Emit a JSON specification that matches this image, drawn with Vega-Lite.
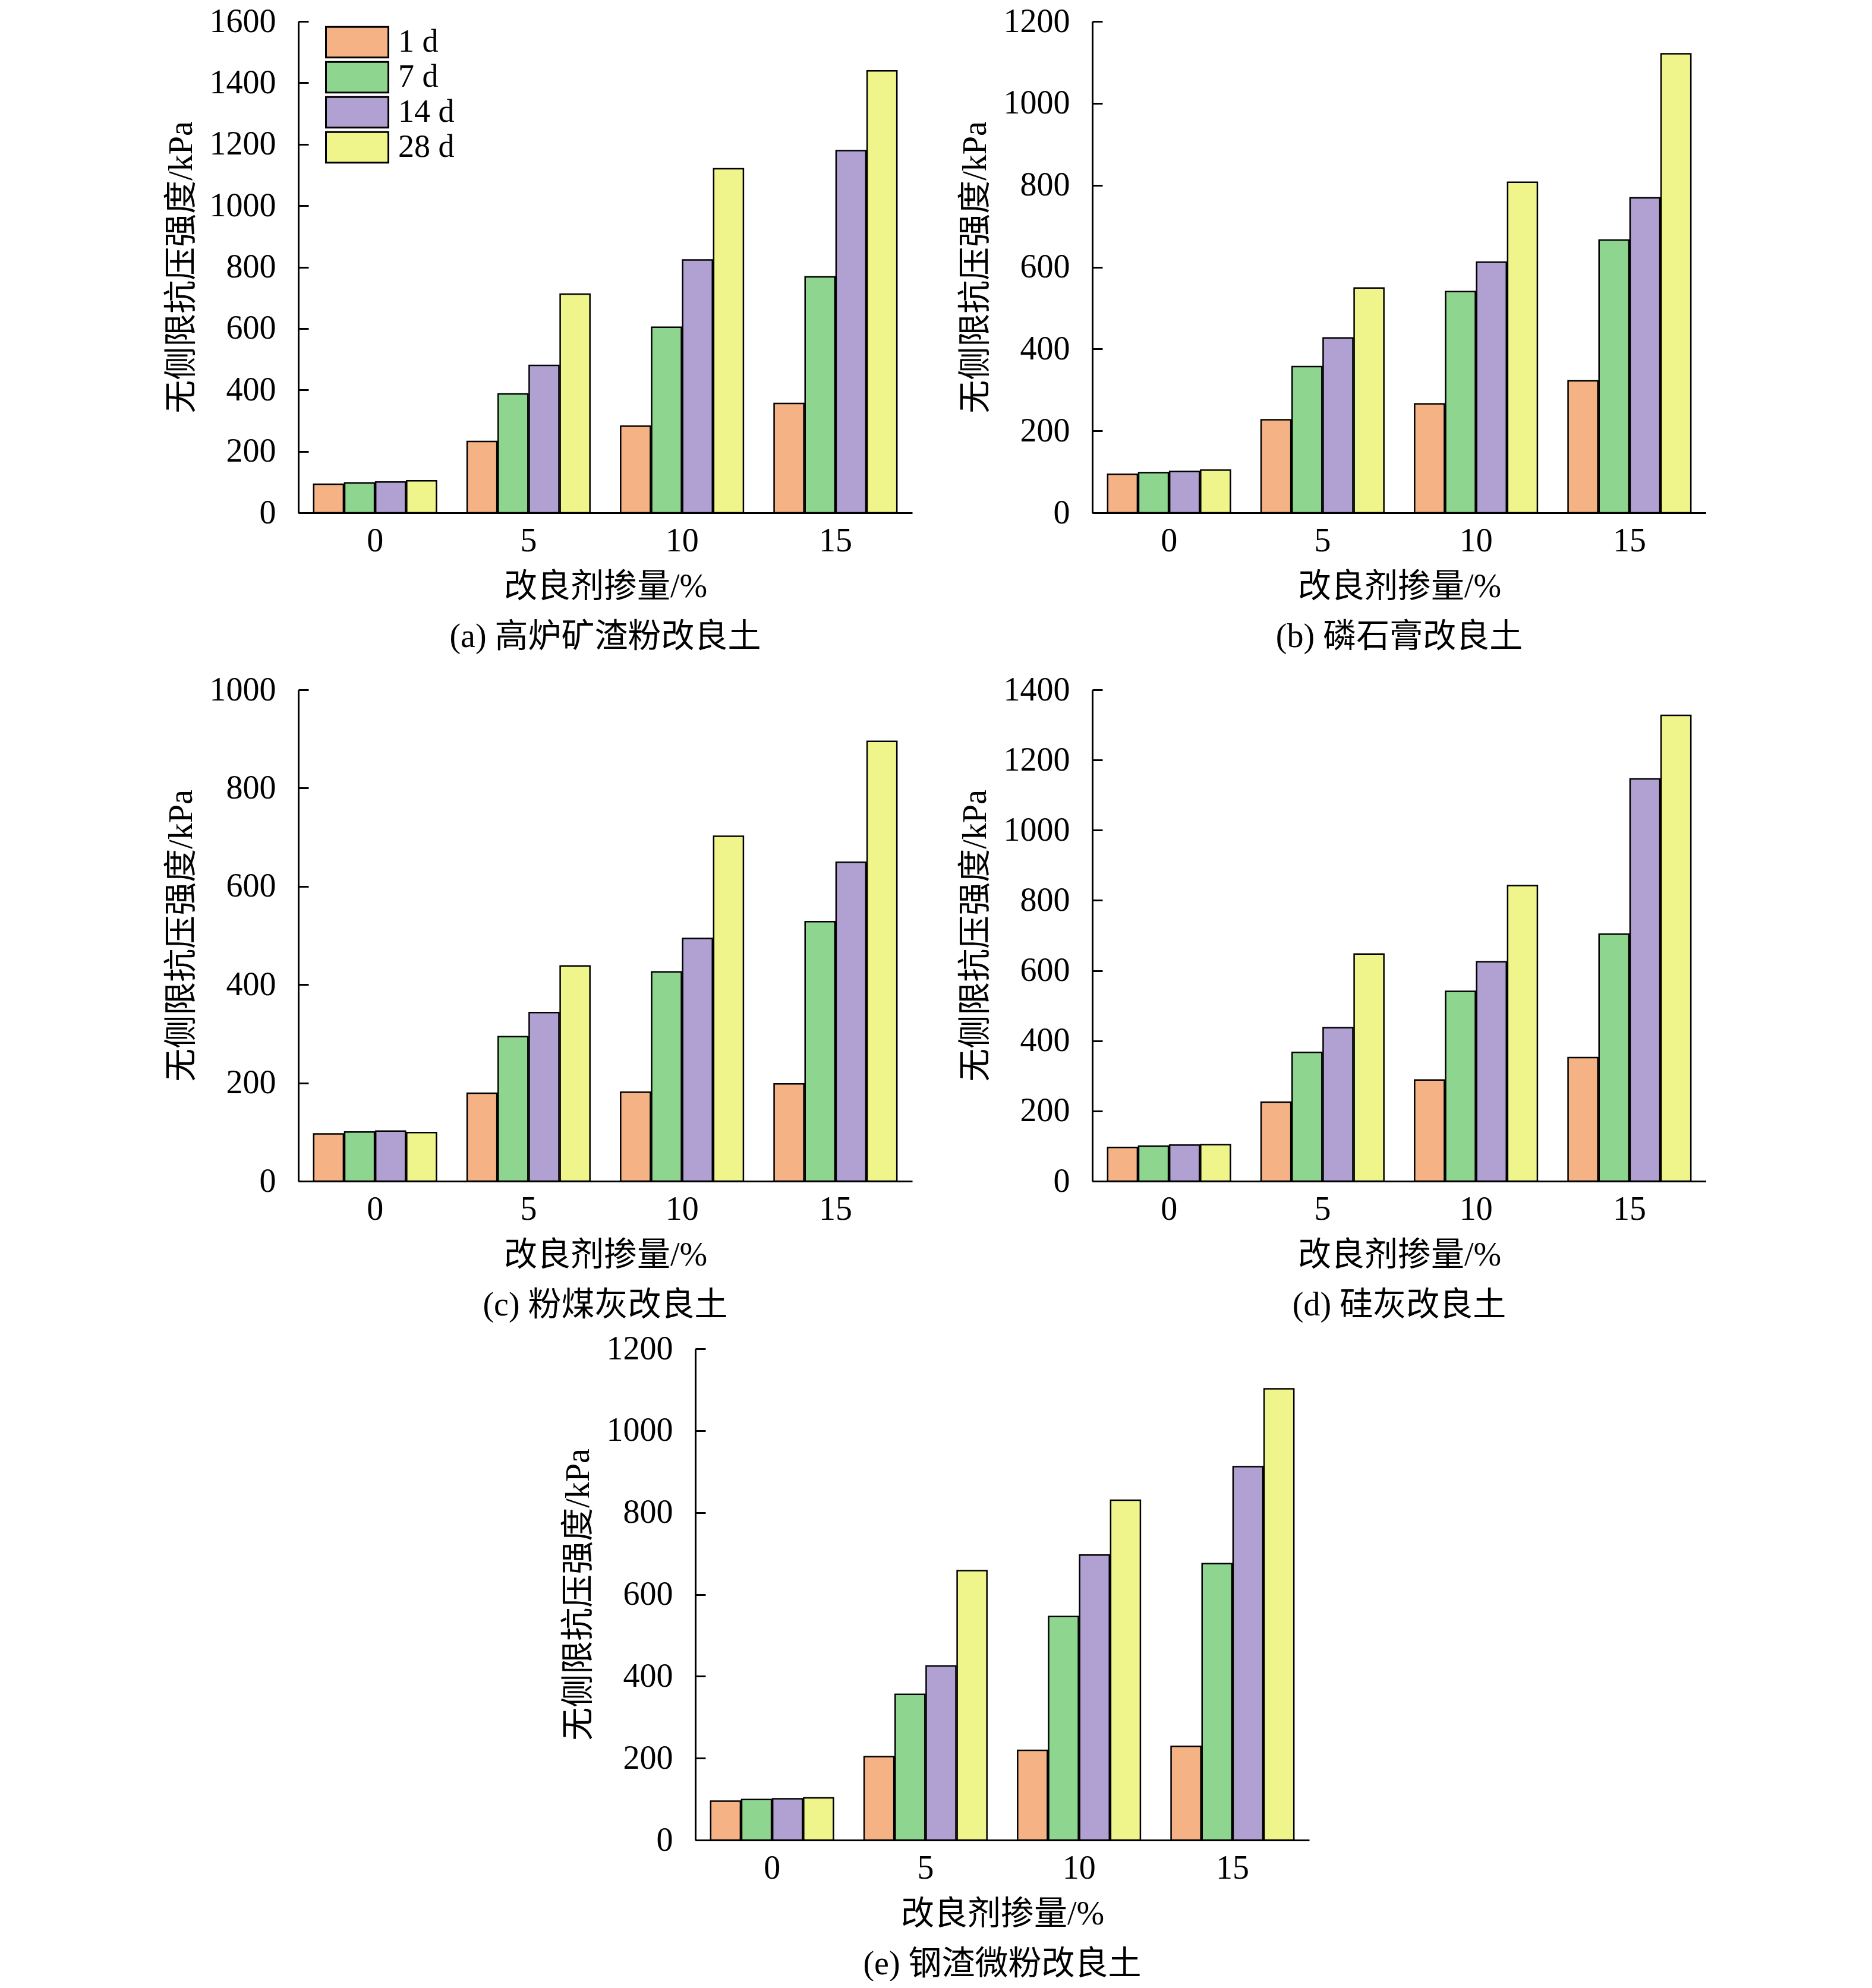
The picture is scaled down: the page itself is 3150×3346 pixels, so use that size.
{
  "$schema": "https://vega.github.io/schema/vega-lite/v6.json",
  "padding": {"left": 277, "top": 8, "right": 0, "bottom": 0},
  "background": "white",
  "data": {
    "values": [
      {"p": "a", "dose": 0, "age": "1 d", "kPa": 93},
      {"p": "a", "dose": 0, "age": "7 d", "kPa": 97},
      {"p": "a", "dose": 0, "age": "14 d", "kPa": 100},
      {"p": "a", "dose": 0, "age": "28 d", "kPa": 104},
      {"p": "a", "dose": 5, "age": "1 d", "kPa": 232},
      {"p": "a", "dose": 5, "age": "7 d", "kPa": 387},
      {"p": "a", "dose": 5, "age": "14 d", "kPa": 480},
      {"p": "a", "dose": 5, "age": "28 d", "kPa": 712},
      {"p": "a", "dose": 10, "age": "1 d", "kPa": 282},
      {"p": "a", "dose": 10, "age": "7 d", "kPa": 604},
      {"p": "a", "dose": 10, "age": "14 d", "kPa": 823},
      {"p": "a", "dose": 10, "age": "28 d", "kPa": 1120},
      {"p": "a", "dose": 15, "age": "1 d", "kPa": 356},
      {"p": "a", "dose": 15, "age": "7 d", "kPa": 768},
      {"p": "a", "dose": 15, "age": "14 d", "kPa": 1179},
      {"p": "a", "dose": 15, "age": "28 d", "kPa": 1439},
      {"p": "b", "dose": 0, "age": "1 d", "kPa": 94},
      {"p": "b", "dose": 0, "age": "7 d", "kPa": 98},
      {"p": "b", "dose": 0, "age": "14 d", "kPa": 101},
      {"p": "b", "dose": 0, "age": "28 d", "kPa": 104},
      {"p": "b", "dose": 5, "age": "1 d", "kPa": 227},
      {"p": "b", "dose": 5, "age": "7 d", "kPa": 357},
      {"p": "b", "dose": 5, "age": "14 d", "kPa": 427},
      {"p": "b", "dose": 5, "age": "28 d", "kPa": 549},
      {"p": "b", "dose": 10, "age": "1 d", "kPa": 266},
      {"p": "b", "dose": 10, "age": "7 d", "kPa": 540},
      {"p": "b", "dose": 10, "age": "14 d", "kPa": 612},
      {"p": "b", "dose": 10, "age": "28 d", "kPa": 807},
      {"p": "b", "dose": 15, "age": "1 d", "kPa": 322},
      {"p": "b", "dose": 15, "age": "7 d", "kPa": 666},
      {"p": "b", "dose": 15, "age": "14 d", "kPa": 769},
      {"p": "b", "dose": 15, "age": "28 d", "kPa": 1121},
      {"p": "c", "dose": 0, "age": "1 d", "kPa": 96},
      {"p": "c", "dose": 0, "age": "7 d", "kPa": 100},
      {"p": "c", "dose": 0, "age": "14 d", "kPa": 102},
      {"p": "c", "dose": 0, "age": "28 d", "kPa": 99},
      {"p": "c", "dose": 5, "age": "1 d", "kPa": 179},
      {"p": "c", "dose": 5, "age": "7 d", "kPa": 294},
      {"p": "c", "dose": 5, "age": "14 d", "kPa": 343},
      {"p": "c", "dose": 5, "age": "28 d", "kPa": 438},
      {"p": "c", "dose": 10, "age": "1 d", "kPa": 181},
      {"p": "c", "dose": 10, "age": "7 d", "kPa": 426},
      {"p": "c", "dose": 10, "age": "14 d", "kPa": 494},
      {"p": "c", "dose": 10, "age": "28 d", "kPa": 702},
      {"p": "c", "dose": 15, "age": "1 d", "kPa": 198},
      {"p": "c", "dose": 15, "age": "7 d", "kPa": 528},
      {"p": "c", "dose": 15, "age": "14 d", "kPa": 649},
      {"p": "c", "dose": 15, "age": "28 d", "kPa": 895},
      {"p": "d", "dose": 0, "age": "1 d", "kPa": 96},
      {"p": "d", "dose": 0, "age": "7 d", "kPa": 100},
      {"p": "d", "dose": 0, "age": "14 d", "kPa": 103},
      {"p": "d", "dose": 0, "age": "28 d", "kPa": 104},
      {"p": "d", "dose": 5, "age": "1 d", "kPa": 225},
      {"p": "d", "dose": 5, "age": "7 d", "kPa": 367},
      {"p": "d", "dose": 5, "age": "14 d", "kPa": 437},
      {"p": "d", "dose": 5, "age": "28 d", "kPa": 647},
      {"p": "d", "dose": 10, "age": "1 d", "kPa": 288},
      {"p": "d", "dose": 10, "age": "7 d", "kPa": 541},
      {"p": "d", "dose": 10, "age": "14 d", "kPa": 625},
      {"p": "d", "dose": 10, "age": "28 d", "kPa": 842},
      {"p": "d", "dose": 15, "age": "1 d", "kPa": 352},
      {"p": "d", "dose": 15, "age": "7 d", "kPa": 704},
      {"p": "d", "dose": 15, "age": "14 d", "kPa": 1146},
      {"p": "d", "dose": 15, "age": "28 d", "kPa": 1327},
      {"p": "e", "dose": 0, "age": "1 d", "kPa": 95},
      {"p": "e", "dose": 0, "age": "7 d", "kPa": 99},
      {"p": "e", "dose": 0, "age": "14 d", "kPa": 101},
      {"p": "e", "dose": 0, "age": "28 d", "kPa": 103},
      {"p": "e", "dose": 5, "age": "1 d", "kPa": 204},
      {"p": "e", "dose": 5, "age": "7 d", "kPa": 356},
      {"p": "e", "dose": 5, "age": "14 d", "kPa": 425},
      {"p": "e", "dose": 5, "age": "28 d", "kPa": 658},
      {"p": "e", "dose": 10, "age": "1 d", "kPa": 219},
      {"p": "e", "dose": 10, "age": "7 d", "kPa": 546},
      {"p": "e", "dose": 10, "age": "14 d", "kPa": 696},
      {"p": "e", "dose": 10, "age": "28 d", "kPa": 830},
      {"p": "e", "dose": 15, "age": "1 d", "kPa": 229},
      {"p": "e", "dose": 15, "age": "7 d", "kPa": 675},
      {"p": "e", "dose": 15, "age": "14 d", "kPa": 912},
      {"p": "e", "dose": 15, "age": "28 d", "kPa": 1102}
    ]
  },
  "spacing": 17,
  "center": true,
  "resolve": {"legend": {"color": "independent"}},
  "vconcat": [
    {
      "spacing": 33,
      "resolve": {"legend": {"color": "independent"}},
      "vconcat": [
        {
          "spacing": 78,
          "resolve": {"legend": {"color": "independent"}},
          "hconcat": [
            {
              "width": 1033, "height": 827,
              "title": "(a) 高炉矿渣粉改良土",
              "transform": [{"filter": "datum.p == 'a'"}],
              "mark": {"type": "bar", "stroke": "black", "strokeWidth": 2.5},
              "encoding": {
                "x": {"field": "dose", "type": "ordinal", "title": "改良剂掺量/%", "scale": {"paddingInner": 0.2, "paddingOuter": 0.1}},
                "xOffset": {"field": "age", "type": "nominal", "sort": ["1 d", "7 d", "14 d", "28 d"], "scale": {"paddingInner": 0.04}},
                "y": {"field": "kPa", "type": "quantitative", "title": "无侧限抗压强度/kPa", "scale": {"domain": [0, 1600], "nice": false}, "axis": {"format": "d", "values": [0, 200, 400, 600, 800, 1000, 1200, 1400, 1600]}},
                "color": {
                  "field": "age", "type": "nominal",
                  "scale": {"domain": ["1 d", "7 d", "14 d", "28 d"], "range": ["#F5B285", "#8ED690", "#B1A1D3", "#F0F58B"]},
                  "legend": {
                    "orient": "none", "legendX": 72, "legendY": 8, "title": null, "padding": 0,
                    "symbolType": "M-2.1,-1.03H2.1V1.03H-2.1Z", "symbolSize": 2500,
                    "symbolStrokeColor": "black", "symbolStrokeWidth": 3, "symbolOpacity": 1,
                    "labelFont": "Liberation Serif, Noto Sans CJK SC", "labelFontSize": 54, "labelColor": "black",
                    "labelOffset": 42, "rowPadding": -8
                  }
                }
              }
            },
            {
              "width": 1033, "height": 827,
              "title": "(b) 磷石膏改良土",
              "transform": [{"filter": "datum.p == 'b'"}],
              "mark": {"type": "bar", "stroke": "black", "strokeWidth": 2.5},
              "encoding": {
                "x": {"field": "dose", "type": "ordinal", "title": "改良剂掺量/%", "scale": {"paddingInner": 0.2, "paddingOuter": 0.1}},
                "xOffset": {"field": "age", "type": "nominal", "sort": ["1 d", "7 d", "14 d", "28 d"], "scale": {"paddingInner": 0.04}},
                "y": {"field": "kPa", "type": "quantitative", "title": "无侧限抗压强度/kPa", "scale": {"domain": [0, 1200], "nice": false}, "axis": {"format": "d", "values": [0, 200, 400, 600, 800, 1000, 1200]}},
                "color": {"field": "age", "type": "nominal", "scale": {"domain": ["1 d", "7 d", "14 d", "28 d"], "range": ["#F5B285", "#8ED690", "#B1A1D3", "#F0F58B"]}, "legend": null}
              }
            }
          ]
        },
        {
          "spacing": 78,
          "resolve": {"legend": {"color": "independent"}},
          "hconcat": [
            {
              "width": 1033, "height": 827,
              "title": "(c) 粉煤灰改良土",
              "transform": [{"filter": "datum.p == 'c'"}],
              "mark": {"type": "bar", "stroke": "black", "strokeWidth": 2.5},
              "encoding": {
                "x": {"field": "dose", "type": "ordinal", "title": "改良剂掺量/%", "scale": {"paddingInner": 0.2, "paddingOuter": 0.1}},
                "xOffset": {"field": "age", "type": "nominal", "sort": ["1 d", "7 d", "14 d", "28 d"], "scale": {"paddingInner": 0.04}},
                "y": {"field": "kPa", "type": "quantitative", "title": "无侧限抗压强度/kPa", "scale": {"domain": [0, 1000], "nice": false}, "axis": {"format": "d", "values": [0, 200, 400, 600, 800, 1000]}},
                "color": {"field": "age", "type": "nominal", "scale": {"domain": ["1 d", "7 d", "14 d", "28 d"], "range": ["#F5B285", "#8ED690", "#B1A1D3", "#F0F58B"]}, "legend": null}
              }
            },
            {
              "width": 1033, "height": 827,
              "title": "(d) 硅灰改良土",
              "transform": [{"filter": "datum.p == 'd'"}],
              "mark": {"type": "bar", "stroke": "black", "strokeWidth": 2.5},
              "encoding": {
                "x": {"field": "dose", "type": "ordinal", "title": "改良剂掺量/%", "scale": {"paddingInner": 0.2, "paddingOuter": 0.1}},
                "xOffset": {"field": "age", "type": "nominal", "sort": ["1 d", "7 d", "14 d", "28 d"], "scale": {"paddingInner": 0.04}},
                "y": {"field": "kPa", "type": "quantitative", "title": "无侧限抗压强度/kPa", "scale": {"domain": [0, 1400], "nice": false}, "axis": {"format": "d", "values": [0, 200, 400, 600, 800, 1000, 1200, 1400]}},
                "color": {"field": "age", "type": "nominal", "scale": {"domain": ["1 d", "7 d", "14 d", "28 d"], "range": ["#F5B285", "#8ED690", "#B1A1D3", "#F0F58B"]}, "legend": null}
              }
            }
          ]
        }
      ]
    },
    {
      "width": 1033, "height": 827,
      "title": "(e) 钢渣微粉改良土",
      "transform": [{"filter": "datum.p == 'e'"}],
      "mark": {"type": "bar", "stroke": "black", "strokeWidth": 2.5},
      "encoding": {
        "x": {"field": "dose", "type": "ordinal", "title": "改良剂掺量/%", "scale": {"paddingInner": 0.2, "paddingOuter": 0.1}},
        "xOffset": {"field": "age", "type": "nominal", "sort": ["1 d", "7 d", "14 d", "28 d"], "scale": {"paddingInner": 0.04}},
        "y": {"field": "kPa", "type": "quantitative", "title": "无侧限抗压强度/kPa", "scale": {"domain": [0, 1200], "nice": false}, "axis": {"format": "d", "values": [0, 200, 400, 600, 800, 1000, 1200]}},
        "color": {"field": "age", "type": "nominal", "scale": {"domain": ["1 d", "7 d", "14 d", "28 d"], "range": ["#F5B285", "#8ED690", "#B1A1D3", "#F0F58B"]}, "legend": null}
      }
    }
  ],
  "config": {
    "view": {"stroke": null},
    "font": "Liberation Serif, Noto Sans CJK SC",
    "bar": {"opacity": 1},
    "title": {"orient": "bottom", "offset": 30, "fontSize": 56, "fontWeight": "normal", "color": "black", "font": "Liberation Serif, Noto Sans CJK SC"},
    "axis": {
      "grid": false,
      "domainColor": "black", "domainWidth": 3,
      "tickColor": "black", "tickWidth": 3,
      "labelFont": "Liberation Serif, Noto Sans CJK SC", "labelFontSize": 56, "labelColor": "black",
      "titleFont": "Liberation Serif, Noto Sans CJK SC", "titleFontSize": 56, "titleFontWeight": "normal", "titleColor": "black"
    },
    "axisX": {"labelAngle": 0, "ticks": false, "labelPadding": 20, "titlePadding": 22},
    "axisY": {"tickSize": -17, "labelPadding": 55, "titlePadding": 18}
  }
}
